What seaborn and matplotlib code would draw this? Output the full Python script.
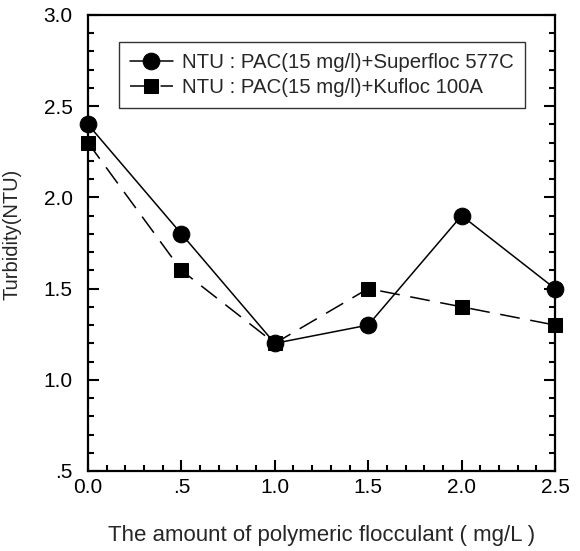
import matplotlib
matplotlib.use("Agg")
import matplotlib.pyplot as plt
import seaborn as sns
import pandas as pd
from matplotlib.ticker import MultipleLocator, FixedFormatter, FixedLocator

x_vals = [0.0, 0.5, 1.0, 1.5, 2.0, 2.5]
superfloc = [2.4, 1.8, 1.2, 1.3, 1.9, 1.5]
kufloc = [2.3, 1.6, 1.2, 1.5, 1.4, 1.3]
label1 = "NTU : PAC(15 mg/l)+Superfloc 577C"
label2 = "NTU : PAC(15 mg/l)+Kufloc 100A"
x_ticks = [0.0, 0.5, 1.0, 1.5, 2.0, 2.5]
x_ticklabels = ["0.0", ".5", "1.0", "1.5", "2.0", "2.5"]
y_ticks = [0.5, 1.0, 1.5, 2.0, 2.5, 3.0]
y_ticklabels = [".5", "1.0", "1.5", "2.0", "2.5", "3.0"]

sns.set_style("ticks")
plt.rcParams['font.family'] = ['Liberation Sans', 'DejaVu Sans']

fig = plt.figure(figsize=(5.8, 5.51), dpi=100)
ax = fig.add_axes([88/580, 80/551, 467/580, 456/551])

df1 = pd.DataFrame({"x": x_vals, "y": superfloc})
df2 = pd.DataFrame({"x": x_vals, "y": kufloc})
sns.lineplot(data=df1, x="x", y="y", ax=ax, color="black", lw=1.1,
             marker="o", markersize=12, markeredgecolor="black", label=label1,
             clip_on=False, zorder=3)
sns.lineplot(data=df2, x="x", y="y", ax=ax, color="black", lw=1.1,
             marker="s", markersize=10, markeredgecolor="black", label=label2,
             dashes=False, linestyle=(0, (13, 7)), clip_on=False, zorder=3)

ax.set_xlim(0, 2.5)
ax.set_ylim(0.5, 3.0)
ax.xaxis.set_major_locator(FixedLocator(x_ticks))
ax.xaxis.set_major_formatter(FixedFormatter(x_ticklabels))
ax.yaxis.set_major_locator(FixedLocator(y_ticks))
ax.yaxis.set_major_formatter(FixedFormatter(y_ticklabels))
ax.xaxis.set_minor_locator(MultipleLocator(0.1))
ax.yaxis.set_minor_locator(MultipleLocator(0.1))
ax.tick_params(which="both", direction="in", right=True, top=False,
               labelsize=15, width=1.5, colors="black")
ax.tick_params(which="major", length=8)
ax.tick_params(which="minor", length=4.5)
ax.tick_params(axis="x", which="major", pad=5)
ax.tick_params(axis="y", which="major", pad=11)
for s in ax.spines.values():
    s.set_linewidth(1.6)
    s.set_color("black")
    s.set_visible(True)

ax.set_xlabel("The amount of polymeric flocculant ( mg/L )", fontsize=16, labelpad=20)
ax.set_ylabel("Turbidity(NTU)", fontsize=14.5)
ax.yaxis.set_label_coords(-0.143, 0.52)

leg = ax.legend(loc="upper left", bbox_to_anchor=(0.066, 0.941), borderaxespad=0,
                fontsize=14.7, frameon=True, fancybox=False, edgecolor="black",
                handlelength=2.1, borderpad=0.55, labelspacing=0.3, handletextpad=0.45)
leg.get_frame().set_linewidth(1.0)

fig.savefig("out.png", dpi=100)
